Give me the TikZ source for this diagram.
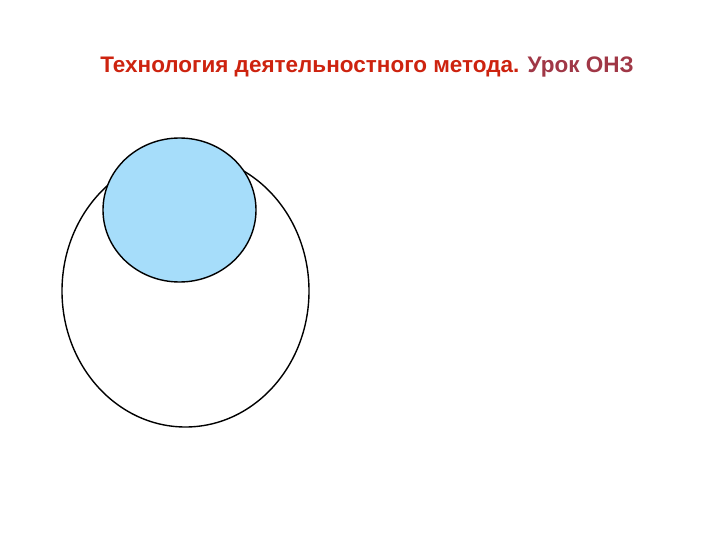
\documentclass[tikz,border=0pt]{standalone}
\usepackage{fontspec}
\setmainfont{Liberation Sans}
\usepackage{tikz}
\usetikzlibrary{shapes.geometric, positioning}
\definecolor{titlered}{RGB}{205,35,15}
\definecolor{titlebrown}{RGB}{160,55,70}
\definecolor{skyfill}{RGB}{166,221,250}

\begin{document}
\begin{tikzpicture}[x=1pt, y=-1pt,
    oval/.style={ellipse, draw, line width=1.4pt, inner sep=0pt},
    heading/.style={font=\fontsize{22.5}{27}\selectfont\bfseries, anchor=base}]

    \useasboundingbox (0,0) rectangle (720,540);

    \node (title) [heading] at (367,73) {\textcolor{titlered}{Технология деятельностного метода.} \textcolor{titlebrown}{Урок ОНЗ}};

    % outer and inner circle
    \node (outer) [oval, minimum width=247pt, minimum height=272pt] at (185.5,291) {};
    \node (inner) [oval, fill=skyfill, minimum width=153pt, minimum height=144pt] at (179.5,210) {};

\end{tikzpicture}
\end{document}
